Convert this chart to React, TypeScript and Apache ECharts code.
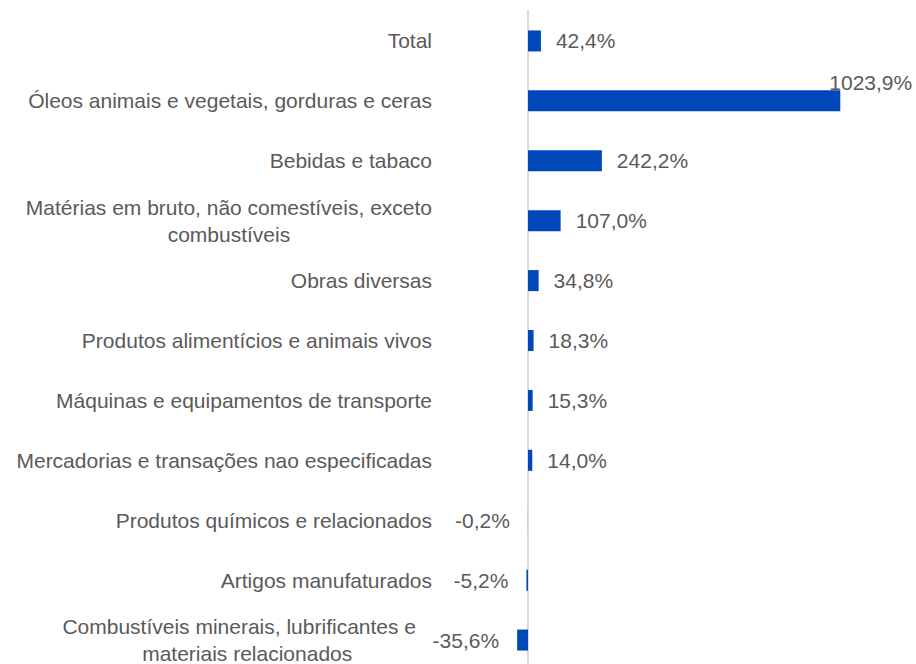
import React, { useEffect, useRef } from "react";
import * as echarts from "echarts";

const categories: string[] = [
  "Total",
  "Óleos animais e vegetais, gorduras e ceras",
  "Bebidas e tabaco",
  "Matérias em bruto, não comestíveis, exceto\ncombustíveis",
  "Obras diversas",
  "Produtos alimentícios e animais vivos",
  "Máquinas e equipamentos de transporte",
  "Mercadorias e transações nao especificadas",
  "Produtos químicos e relacionados",
  "Artigos manufaturados",
  "Combustíveis minerais, lubrificantes e \nmateriais relacionados",
];

const values: number[] = [42.4, 1023.9, 242.2, 107.0, 34.8, 18.3, 15.3, 14.0, -0.2, -5.2, -35.6];

const FONT = "'Liberation Sans', Arial, sans-serif";
const FS = 21;
const TEXT = "#5a5a5a";
const BAR = "#0047BA";

function fmt(v: number): string {
  return v.toFixed(1).replace(".", ",") + "%";
}

export default function App() {
  const ref = useRef<HTMLDivElement>(null);
  useEffect(() => {
    document.body.style.margin = "0";
    document.body.style.overflow = "hidden";
    if (!ref.current) return;
    const chart = echarts.init(ref.current, null, { renderer: "svg" });
    const maxV = Math.max(...values);
    chart.setOption({
      animation: false,
      grid: { left: 467, width: 427, top: 11, height: 659, outerBoundsMode: "none" },
      xAxis: {
        type: "value",
        min: -200,
        max: 1200,
        show: false,
        splitLine: { show: false },
      },
      yAxis: {
        type: "category",
        inverse: true,
        data: categories,
        axisTick: { show: false },
        axisLine: { show: true, onZero: true, lineStyle: { color: "#d9d9d9", width: 2 } },
        axisLabel: {
          margin: 35,
          color: TEXT,
          fontFamily: FONT,
          fontSize: FS,
          lineHeight: 27,
          formatter: (v: string) =>
            v
              .split("\n")
              .map((l) => (/\s$/.test(l) ? `{c|${l.trimEnd()}}{s|}` : `{c|${l}}`))
              .join("\n"),
          rich: {
            c: {
              align: "center",
              color: TEXT,
              fontFamily: FONT,
              fontSize: FS,
              lineHeight: 27,
            },
            s: {
              align: "center",
              width: 16,
              fontSize: FS,
              lineHeight: 27,
            },
          },
        },
      },
      series: [
        {
          type: "bar",
          barWidth: 21,
          itemStyle: { color: BAR },
          data: values.map((v) => ({
            value: v,
            label: {
              show: true,
              position: v < 0 ? "left" : "right",
              distance: v < 0 ? 18 : 15,
              offset: v === maxV ? [-26, -18] : [0, 0],
            },
          })),
          label: {
            show: true,
            color: TEXT,
            fontFamily: FONT,
            fontSize: FS,
            formatter: (p: any) => fmt(p.value),
          },
        },
      ],
    });
    return () => chart.dispose();
  }, []);
  return <div ref={ref} style={{ width: 916, height: 664 }} />;
}
